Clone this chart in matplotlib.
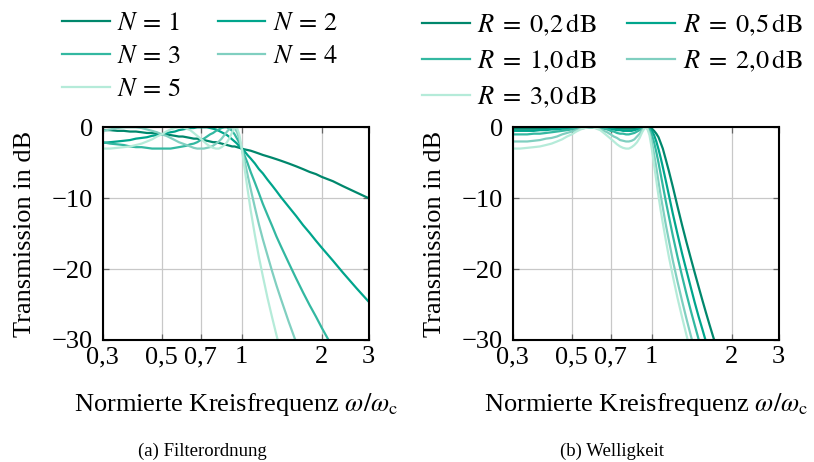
import matplotlib
matplotlib.use("Agg")
import matplotlib.pyplot as plt
from matplotlib.ticker import NullLocator

plt.rcParams['font.family'] = 'Liberation Serif'
plt.rcParams['mathtext.fontset'] = 'stix'
plt.rcParams['font.size'] = 19

# normierte Kreisfrequenz (Stuetzstellen)
w_ord = [0.30, 0.32, 0.34, 0.36, 0.38, 0.40, 0.42, 0.44, 0.46, 0.48,
         0.50, 0.52, 0.54, 0.56, 0.58, 0.60, 0.62, 0.64, 0.66, 0.68,
         0.70, 0.72, 0.74, 0.76, 0.78, 0.80, 0.82, 0.84, 0.86, 0.88,
         0.90, 0.92, 0.94, 0.96, 0.98, 1.00, 1.02, 1.05, 1.08, 1.12,
         1.16, 1.20, 1.25, 1.30, 1.35, 1.40, 1.50, 1.60, 1.70, 1.80,
         1.90, 2.00, 2.20, 2.40, 2.70, 3.00]
w_rip = [0.30, 0.32, 0.34, 0.36, 0.38, 0.40, 0.42, 0.44, 0.46, 0.48,
         0.50, 0.52, 0.54, 0.56, 0.58, 0.60, 0.62, 0.64, 0.66, 0.68,
         0.70, 0.72, 0.74, 0.76, 0.78, 0.80, 0.82, 0.84, 0.86, 0.88,
         0.90, 0.92, 0.94, 0.96, 0.98, 1.00, 1.02, 1.04, 1.06, 1.08,
         1.10, 1.13, 1.16, 1.20, 1.25, 1.30, 1.35, 1.40, 1.45, 1.50,
         1.55, 1.60, 1.65, 1.70, 1.75, 1.80]

# (a) Filterordnung, Transmission in dB
n1 = [-0.4, -0.4, -0.5, -0.5, -0.6, -0.6, -0.7, -0.8, -0.8, -0.9, -1.0, -1.0, -1.1, -1.2,
      -1.3, -1.3, -1.4, -1.5, -1.6, -1.6, -1.7, -1.8, -1.9, -2.0, -2.1, -2.1, -2.2, -2.3,
      -2.4, -2.5, -2.6, -2.7, -2.7, -2.8, -2.9, -3.0, -3.1, -3.2, -3.3, -3.5, -3.7, -3.9,
      -4.1, -4.3, -4.5, -4.7, -5.1, -5.5, -5.9, -6.3, -6.6, -7.0, -7.6, -8.3, -9.2, -10.0]
n2 = [-2.2, -2.1, -2.0, -1.9, -1.8, -1.6, -1.5, -1.4, -1.2, -1.1, -1.0, -0.8, -0.7, -0.6,
      -0.4, -0.3, -0.2, -0.1, -0.1, 0.0, 0.0, 0.0, 0.0, -0.1, -0.2, -0.3, -0.5, -0.7,
      -0.9, -1.1, -1.4, -1.7, -2.0, -2.3, -2.7, -3.0, -3.3, -3.9, -4.4, -5.1, -5.9, -6.5,
      -7.4, -8.2, -9.0, -9.8, -11.2, -12.5, -13.8, -14.9, -16.0, -17.0, -18.8, -20.5, -22.7, -24.6]
n3 = [-2.1, -2.3, -2.4, -2.5, -2.7, -2.8, -2.8, -2.9, -3.0, -3.0, -3.0, -3.0, -3.0, -2.9,
      -2.8, -2.7, -2.6, -2.4, -2.3, -2.1, -1.8, -1.6, -1.3, -1.0, -0.8, -0.5, -0.3, -0.1,
      0.0, 0.0, -0.2, -0.5, -1.0, -1.6, -2.2, -3.0, -3.8, -5.0, -6.3, -7.8, -9.3, -10.8,
      -12.4, -13.9, -15.4, -16.7, -19.1, -21.3, -23.3, -25.1, -26.7, -28.3, -31.1]
n4 = [-0.5, -0.3, -0.1, 0.0, 0.0, 0.0, -0.1, -0.3, -0.5, -0.7, -1.0, -1.2, -1.5, -1.8,
      -2.1, -2.3, -2.5, -2.7, -2.9, -3.0, -3.0, -3.0, -2.9, -2.8, -2.6, -2.3, -2.0, -1.6,
      -1.1, -0.6, -0.2, 0.0, -0.1, -0.7, -1.7, -3.0, -4.4, -6.6, -8.7, -11.3, -13.7, -15.8,
      -18.1, -20.3, -22.3, -24.1, -27.4, -30.3]
n5 = [-3.0, -3.0, -2.9, -2.8, -2.7, -2.5, -2.3, -2.0, -1.7, -1.3, -1.0, -0.6, -0.3, -0.1,
      0.0, 0.0, -0.2, -0.4, -0.8, -1.2, -1.6, -2.0, -2.4, -2.7, -2.9, -3.0, -3.0, -2.8,
      -2.5, -2.1, -1.5, -0.7, -0.1, -0.1, -1.1, -3.0, -5.3, -8.6, -11.7, -15.2, -18.3, -21.0,
      -24.1, -26.8, -29.3, -31.6]

# (b) Welligkeit, Transmission in dB
r02 = [-0.2, -0.2, -0.2, -0.2, -0.2, -0.2, -0.1, -0.1, -0.1, -0.1, -0.1, 0.0, 0.0, 0.0,
       0.0, 0.0, 0.0, 0.0, 0.0, -0.1, -0.1, -0.1, -0.1, -0.2, -0.2, -0.2, -0.2, -0.2,
       -0.2, -0.1, -0.1, 0.0, 0.0, 0.0, -0.1, -0.2, -0.5, -0.9, -1.4, -2.2, -3.0, -4.6,
       -6.2, -8.4, -11.2, -13.8, -16.2, -18.4, -20.5, -22.5, -24.4, -26.2, -27.9, -29.5, -31.0]
r05 = [-0.5, -0.5, -0.5, -0.5, -0.4, -0.4, -0.3, -0.3, -0.2, -0.2, -0.1, -0.1, 0.0, 0.0,
       0.0, 0.0, 0.0, -0.1, -0.1, -0.2, -0.2, -0.3, -0.4, -0.4, -0.5, -0.5, -0.5, -0.5,
       -0.4, -0.3, -0.2, -0.1, 0.0, 0.0, -0.2, -0.5, -1.1, -2.0, -3.1, -4.3, -5.6, -7.6,
       -9.6, -12.2, -15.1, -17.8, -20.2, -22.5, -24.7, -26.7, -28.5, -30.3]
r10 = [-1.0, -1.0, -1.0, -0.9, -0.9, -0.8, -0.7, -0.6, -0.5, -0.4, -0.3, -0.2, -0.1, 0.0,
       0.0, 0.0, 0.0, -0.1, -0.2, -0.3, -0.5, -0.6, -0.8, -0.9, -0.9, -1.0, -1.0, -0.9,
       -0.8, -0.6, -0.4, -0.2, 0.0, 0.0, -0.3, -1.0, -2.1, -3.5, -5.0, -6.6, -8.2, -10.5,
       -12.6, -15.3, -18.3, -21.0, -23.5, -25.8, -27.9, -29.9, -31.8]
r20 = [-2.0, -2.0, -2.0, -1.9, -1.8, -1.6, -1.5, -1.3, -1.0, -0.8, -0.6, -0.4, -0.2, -0.1,
       0.0, 0.0, -0.1, -0.3, -0.5, -0.7, -1.0, -1.3, -1.5, -1.8, -1.9, -2.0, -2.0, -1.9,
       -1.7, -1.3, -0.9, -0.4, -0.1, -0.1, -0.7, -2.0, -3.8, -5.7, -7.7, -9.6, -11.3, -13.8,
       -16.0, -18.8, -21.8, -24.5, -27.0, -29.3, -31.4]
r30 = [-3.0, -3.0, -2.9, -2.8, -2.7, -2.5, -2.3, -2.0, -1.7, -1.3, -1.0, -0.6, -0.3, -0.1,
       0.0, 0.0, -0.2, -0.4, -0.8, -1.2, -1.6, -2.0, -2.4, -2.7, -2.9, -3.0, -3.0, -2.8,
       -2.5, -2.1, -1.5, -0.7, -0.1, -0.1, -1.1, -3.0, -5.3, -7.5, -9.7, -11.7, -13.5, -16.0,
       -18.3, -21.0, -24.1, -26.8, -29.3, -31.6]

ord_curves = [n1, n2, n3, n4, n5]
rip_curves = [r02, r05, r10, r20, r30]
ord_labels = [r'$N\,=\,1$', r'$N\,=\,2$', r'$N\,=\,3$', r'$N\,=\,4$', r'$N\,=\,5$']
rip_labels = [r'$R\;=\;0{,}2\,\mathrm{dB}$', r'$R\;=\;0{,}5\,\mathrm{dB}$', r'$R\;=\;1{,}0\,\mathrm{dB}$',
              r'$R\;=\;2{,}0\,\mathrm{dB}$', r'$R\;=\;3{,}0\,\mathrm{dB}$']
colors = ['#00876c', '#00a58c', '#33b8a1', '#80cfc0', '#b5ebd9']

xticks = [0.3, 0.5, 0.7, 1, 2, 3]
xticklabels = ['0,3', '0,5', '0,7', '1', '2', '3']
yticks = [-30, -20, -10, 0]
yticklabels = ['\u221230', '\u221220', '\u221210', '0']

fig = plt.figure(figsize=(8.14, 4.62), dpi=100)
ax1 = fig.add_axes([102.7/814, 1-340/462, 266/814, 212.7/462])
ax2 = fig.add_axes([512.7/814, 1-340/462, 266/814, 212.7/462])

for i in range(5):
    ax1.plot(w_ord[:len(ord_curves[i])], ord_curves[i], color=colors[i], lw=1.6, label=ord_labels[i])
    ax2.plot(w_rip[:len(rip_curves[i])], rip_curves[i], color=colors[i], lw=1.6, label=rip_labels[i])

for ax in (ax1, ax2):
    ax.set_xscale('log')
    ax.set_xlim(0.3, 3)
    ax.set_ylim(-30, 0)
    ax.set_xticks(xticks)
    ax.set_xticklabels(xticklabels)
    ax.xaxis.set_minor_locator(NullLocator())
    ax.set_yticks(yticks)
    ax.set_yticklabels(yticklabels)
    ax.grid(True, color='#c8c8c8', lw=0.9)
    ax.set_axisbelow(True)
    ax.tick_params(direction='in', length=4, width=0.9, color='#666666', top=True, right=True)
    ax.tick_params(axis='x', pad=4.5)
    ax.tick_params(axis='y', pad=7)
    for s in ax.spines.values():
        s.set_linewidth(1.5)
    ax.set_ylabel('Transmission in dB')
    ax.yaxis.set_label_coords(-0.251, 0.5)
    ax.set_xlabel(r'Normierte Kreisfrequenz $\omega/\omega_\mathrm{c}$')
    ax.xaxis.set_label_coords(0.5, -0.24)

# Legende zeilenweise fuellen
order = [0, 2, 4, 1, 3]
h1, l1 = ax1.get_legend_handles_labels()
ax1.legend([h1[k] for k in order], [l1[k] for k in order], ncol=2, frameon=False,
           loc='upper left', bbox_to_anchor=(62/814, 1-12/462), bbox_transform=fig.transFigure,
           borderpad=0, borderaxespad=0, handlelength=1.8, handletextpad=0.3,
           columnspacing=1.38, labelspacing=0.36)
h2, l2 = ax2.get_legend_handles_labels()
ax2.legend([h2[k] for k in order], [l2[k] for k in order], ncol=2, frameon=False,
           loc='upper left', bbox_to_anchor=(422/814, 1-12/462), bbox_transform=fig.transFigure,
           borderpad=0, borderaxespad=0, handlelength=1.8, handletextpad=0.3,
           columnspacing=1.15, labelspacing=0.36)

fig.text(202/814, 1-456/462, '(a) Filterordnung', ha='center', va='baseline', fontsize=13.5)
fig.text(612/814, 1-456/462, '(b) Welligkeit', ha='center', va='baseline', fontsize=13.5)

fig.savefig('out.png')
